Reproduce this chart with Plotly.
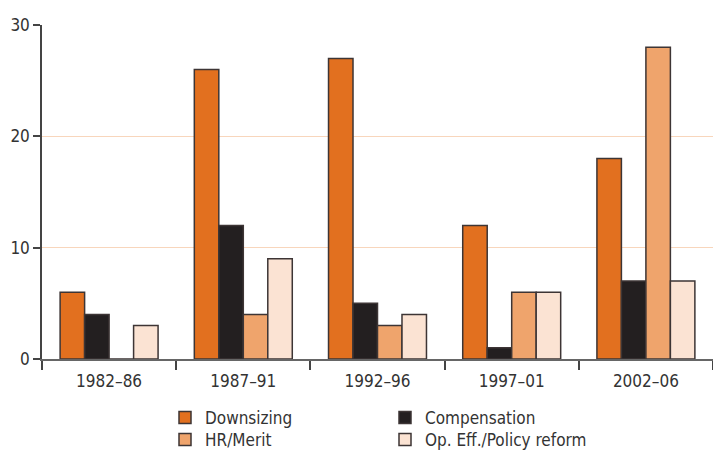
import plotly.graph_objects as go

categories = ["1982–86", "1987–91", "1992–96", "1997–01", "2002–06"]
downsizing = [6, 26, 27, 12, 18]
compensation = [4, 12, 5, 1, 7]
hr_merit = [0, 4, 3, 6, 28]
op_eff = [3, 9, 4, 6, 7]

series_names = ["Downsizing", "Compensation", "HR/Merit", "Op. Eff./Policy reform"]
series_values = [downsizing, compensation, hr_merit, op_eff]
series_colors = ["#E2701F", "#231F20", "#EFA46C", "#FBE3D3"]

FONT = "DejaVu Sans Condensed, Roboto, sans-serif"

W, H = 713, 450
ml, mr, mt, mb = 42, 0, 25, 91
ph = H - mt - mb

def px_x(px):
    return (px - ml) / (W - ml - mr)

def px_y(py):
    return (H - mb - py) / ph

# legend placement: (legend id, left px, top px)
legend_slots = [("legend", 165, 400), ("legend2", 385, 400),
                ("legend3", 165, 422), ("legend4", 385, 422)]

fig = go.Figure()
for name, vals, color, slot in zip(series_names, series_values, series_colors, legend_slots):
    fig.add_trace(go.Bar(
        x=categories, y=vals, name=name, showlegend=True,
        marker=dict(color=color, line=dict(color="#3d3535", width=1.5)),
        legend=slot[0],
    ))

legend_layout = {}
for lid, lx, ly in legend_slots:
    legend_layout[lid] = dict(
        visible=True,
        orientation="v", x=px_x(lx), xref="paper", xanchor="left",
        y=px_y(ly), yanchor="top", font=dict(size=17, color="#333333"),
        bgcolor="rgba(0,0,0,0)", tracegroupgap=0,
    )

fig.update_layout(
    width=W, height=H, showlegend=True,
    margin=dict(l=ml, r=mr, t=mt, b=mb, pad=0, autoexpand=False),
    paper_bgcolor="white", plot_bgcolor="white",
    barmode="group", bargap=0.27, bargroupgap=0,
    font=dict(family=FONT, size=17, color="#333333"),
    xaxis=dict(
        showline=True, linecolor="#666666", linewidth=2,
        ticks="outside", tickson="boundaries", ticklen=9, tickwidth=1.5, tickcolor="#444444",
        showgrid=False, tickfont=dict(size=17, color="#333333"), ticklabelstandoff=6,
    ),
    yaxis=dict(
        range=[0, 30], tickvals=[0, 10, 20, 30],
        showline=True, linecolor="#444444", linewidth=1.5,
        ticks="outside", ticklen=7, tickwidth=1.5, tickcolor="#444444",
        showgrid=True, gridcolor="#F8D6BC", gridwidth=1.2,
        zeroline=False, tickfont=dict(size=17, color="#333333"),
    ),
    **legend_layout,
)

fig.write_html("out.html")
